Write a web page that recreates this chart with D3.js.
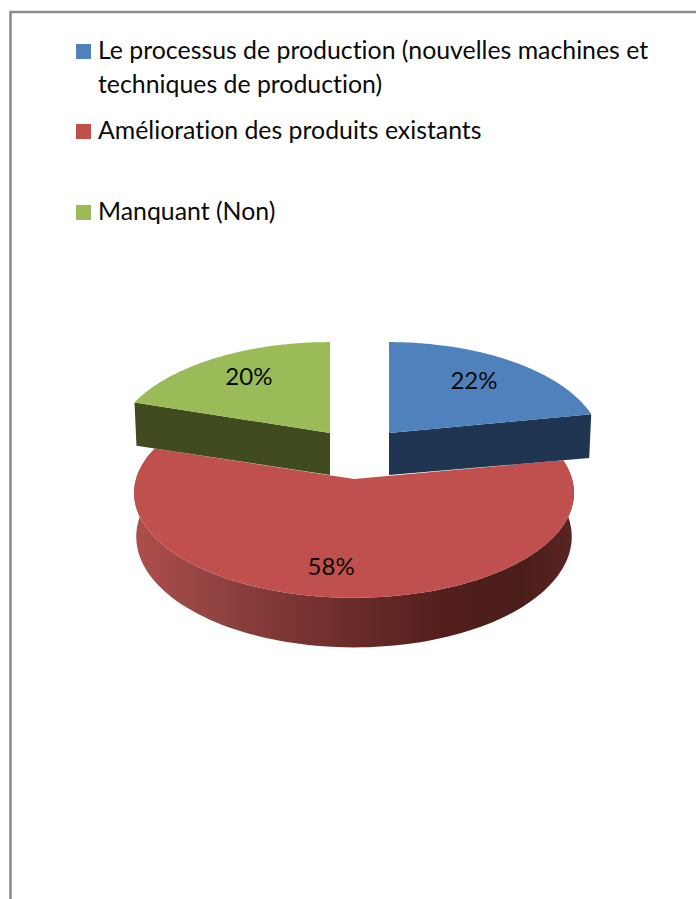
<!DOCTYPE html>
<html><head><meta charset="utf-8">
<script src="https://cdn.jsdelivr.net/npm/d3@7"></script>
<style>html,body{margin:0;padding:0;background:#fff}svg{display:block}text{font-family:Lato,sans-serif;fill:#0a0a0a;font-variant-ligatures:none}</style>
</head><body><div id="c"></div>
<script>
const categories = ["Le processus de production (nouvelles machines et\ntechniques de production)", "Amélioration des produits existants", "Manquant (Non)"];
const values = [22, 58, 20];
const colors = ["#4f81bd", "#c0504d", "#9bbb59"];
const wallColors = ["#1f3552", "#7e3533", "#414b20"];

const W = 696, H = 899;
const svg = d3.select("#c").append("svg").attr("width", W).attr("height", H);

// frame
svg.append("path").attr("d", `M10.5,${H}V12H${W}`).attr("fill", "none").attr("stroke", "#8c8c8c").attr("stroke-width", 2.6);

// gradient for the round wall
const grad = svg.append("defs").append("linearGradient").attr("id", "wall");
[[0,"#ad4e4c"],[.2,"#8f4240"],[.45,"#702e2c"],[.7,"#531f1d"],[.88,"#4a1d1b"],[1,"#5a2522"]].forEach(([o,c]) =>
  grad.append("stop").attr("offset", o).attr("stop-color", c));

// legend
const legendTop = [44, 124, 205], lineGap = 34;
const lg = svg.append("g").selectAll("g").data(categories).join("g");
lg.append("rect").attr("x", 76).attr("y", (d,i) => legendTop[i]).attr("width", 15).attr("height", 15)
  .attr("fill", (d,i) => colors[i]);
lg.each(function(d,i){
  d.split("\n").forEach((t,j) => {
    d3.select(this).append("text").attr("x", 98).attr("y", legendTop[i] + 15 + j*lineGap)
      .attr("font-size", 24.85).text(t);
  });
});

// pie in perspective
const pie = d3.pie().value(d => d).sort(null)(values);
const K = .133, RY = 103;
const slices = [
  {ax:389, ay:433, rx:211, apexDepth:42, rimDepth:45},
  {ax:354, ay:479, rx:218, apexDepth:43, rimDepth:43},
  {ax:330, ay:433, rx:214, apexDepth:42, rimDepth:45}
];
function proj(sl, a, f, low) {
  const u = Math.sin(a)*f, v = Math.cos(a)*f, s = 1/(1+K*v);
  const shrink = low ? .99 : 1;
  const d = low ? (sl.apexDepth + (sl.rimDepth - sl.apexDepth)*f)*s : 0;
  return [sl.ax + sl.rx*u*s*shrink, sl.ay - RY*v*s + d];
}
const line = d3.line().curve(d3.curveLinear);
const samples = p => d3.range(0, 121).map(i => p.startAngle + (p.endAngle-p.startAngle)*i/120);
const g = svg.append("g");

function topFace(i){
  const p = pie[i], sl = slices[i];
  return line([proj(sl,0,0,false), ...samples(p).map(a => proj(sl,a,1,false))]) + "Z";
}
// red first
const rp = pie[1], rs = slices[1];
g.append("path").attr("fill","url(#wall)")
  .attr("d", line([...samples(rp).map(a=>proj(rs,a,1,false)), ...samples(rp).reverse().map(a=>proj(rs,a,1,true))])+"Z");
g.append("path").attr("fill",colors[1]).attr("d",topFace(1));

// exploded slices: the visible cut wall and the top
[[0,"endAngle"],[2,"startAngle"]].forEach(([i,edge])=>{
  const sl = slices[i], a = pie[i][edge];
  g.append("path").attr("fill",wallColors[i]).attr("d", line([
    proj(sl,0,0,false), proj(sl,a,1,false), proj(sl,a,1,true), proj(sl,0,0,true)
  ])+"Z");
  g.append("path").attr("fill",colors[i]).attr("d",topFace(i));
});

// value labels
const labelFrac = [.65,.72,.62], labelNudge = [[3,-4],[-12,6],[-8,-8]];
pie.forEach((p,i)=>{
  const a=(p.startAngle+p.endAngle)/2, c=proj(slices[i],a,labelFrac[i],false);
  g.append("text").attr("x",c[0]+labelNudge[i][0]).attr("y",c[1]+labelNudge[i][1]+8.5)
    .attr("text-anchor","middle").attr("font-size",24).text(values[i]+"%");
});
</script></body></html>
